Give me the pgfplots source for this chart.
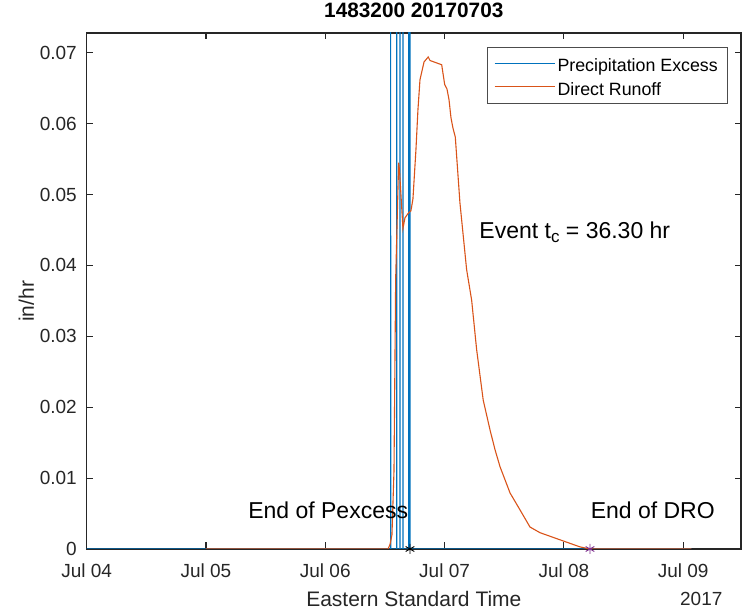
\documentclass[border=0pt]{standalone}
\usepackage{pgfplots}
\pgfplotsset{compat=1.18}
\usepackage{fontspec}
\setmainfont{Liberation Sans}
\definecolor{mblue}{RGB}{0,114,189}
\definecolor{morange}{RGB}{217,83,25}
\definecolor{mpurple}{RGB}{126,47,142}
\definecolor{axgray}{RGB}{38,38,38}
\newcommand{\fs}[1]{\fontsize{#1pt}{#1pt}\selectfont}
\newcommand{\lstrut}{\rule[-7.5pt]{0pt}{25.5pt}}
\begin{document}
\begin{tikzpicture}
\begin{axis}[
  scale only axis,
  width=654.3pt, height=516pt,
  xmin=0, xmax=5.485,
  ymin=0, ymax=0.07278,
  scaled y ticks=false,
  clip mode=individual,
  axis line style={draw=axgray, line width=1.2pt},
  tick style={draw=axgray, line width=1.1pt},
  tick align=inside, tick pos=both,
  major tick length=6.5pt,
  xtick={0,1,2,3,4,5},
  xticklabels={Jul 04,Jul 05,Jul 06,Jul 07,Jul 08,Jul 09},
  ytick={0,0.01,0.02,0.03,0.04,0.05,0.06,0.07},
  yticklabels={0,0.01,0.02,0.03,0.04,0.05,0.06,0.07},
  /pgf/number format/assume math mode=true,
  ticklabel style={font=\fs{19}, text=axgray},
  xticklabel style={anchor=base, inner sep=0pt, yshift=-29pt},
  yticklabel style={anchor=east, inner sep=0pt, xshift=-9.7pt},
  title={\textbf{1483200 20170703}},
  title style={font=\fs{20.8}, at={(axis description cs:0.5,1.0188)}, anchor=base, inner sep=0pt},
  xlabel={Eastern Standard Time},
  xlabel style={font=\fs{21}, text=axgray, at={(axis description cs:0.5,-0.1118)}, anchor=base, inner sep=0pt},
  ylabel={in/hr},
  ylabel style={font=\fs{21}, text=axgray, at={(axis description cs:-0.0806,0.48)}, anchor=base, inner sep=0pt},
  legend cell align=left,
  legend style={font=\fs{17.8}, draw=gray!60!black,
    at={(rel axis cs:1,1)}, anchor=north east, xshift=-14pt, yshift=-14pt,
    inner xsep=7pt, inner ysep=4.5pt},
]
\addplot[mblue, line width=1.1pt,
  legend image code/.code={\draw[draw=mblue, line width=1.1pt] (0pt,0pt) -- (60.3pt,0pt);}] coordinates {
(0,0) (2.5475,0) (2.548,0.3) (2.5485,0)
(2.5985,0) (2.599,0.3) (2.5995,0)
(2.6255,0) (2.626,0.3) (2.6265,0)
(2.6505,0) (2.651,0.3) (2.6515,0)
(2.6995,0) (2.700,0.3) (2.7005,0)
(2.7095,0) (2.710,0.3) (2.7105,0)
(5.07,0)
};
\addlegendentry{\lstrut Precipitation Excess}
\addplot[morange, line width=1.1pt,
  legend image code/.code={\draw[draw=morange, line width=1.1pt] (0pt,0pt) -- (60.3pt,0pt);}] coordinates {
(1.0,0) (2.526,0) (2.542,0.0006) (2.559,0.002) (2.576,0.011) (2.590,0.038)
(2.615,0.0545) (2.622,0.0535) (2.651,0.0452) (2.668,0.0467) (2.693,0.0473)
(2.718,0.0477) (2.735,0.0494) (2.760,0.0563) (2.777,0.0620) (2.794,0.0662)
(2.828,0.0687) (2.853,0.0692) (2.863,0.0694) (2.878,0.0689) (2.976,0.0683)
(3.001,0.0655) (3.020,0.0649) (3.037,0.0634) (3.054,0.0608) (3.070,0.0594)
(3.090,0.0581) (3.129,0.0488) (3.185,0.0394) (3.227,0.0351) (3.269,0.0281)
(3.324,0.0210) (3.381,0.0168) (3.423,0.0140) (3.465,0.0116) (3.549,0.0079)
(3.633,0.0055) (3.716,0.0031) (3.800,0.0023) (3.967,0.0013) (4.135,0.0003)
(4.219,0) (5.07,0)
};
\addlegendentry{\lstrut Direct Runoff}
\addplot[black, only marks, mark=asterisk, mark size=5pt, line width=0.9pt, forget plot] coordinates {(2.710,0)};
\addplot[mpurple, only marks, mark=asterisk, mark size=5pt, line width=0.9pt, forget plot] coordinates {(4.219,0)};
\node[anchor=base east, inner sep=0pt, font=\fs{23}] at (axis cs:2.696,0.00433) {End of Pexcess};
\node[anchor=base west, inner sep=0pt, font=\fs{23}] at (axis cs:4.224,0.00433) {End of DRO};
\node[anchor=base west, inner sep=0pt, font=\fs{23}] at (axis cs:3.291,0.04386) {Event t\raisebox{-0.4ex}{\fs{17}c} = 36.30 hr};
\node[anchor=base east, inner sep=0pt, font=\fs{19}, text=axgray] at (axis cs:5.331,-0.0079) {2017};
\end{axis}
\pgfresetboundingbox
\path[use as bounding box] (-86.7pt,-64pt) rectangle (655.3pt,549pt);
\end{tikzpicture}
\end{document}
